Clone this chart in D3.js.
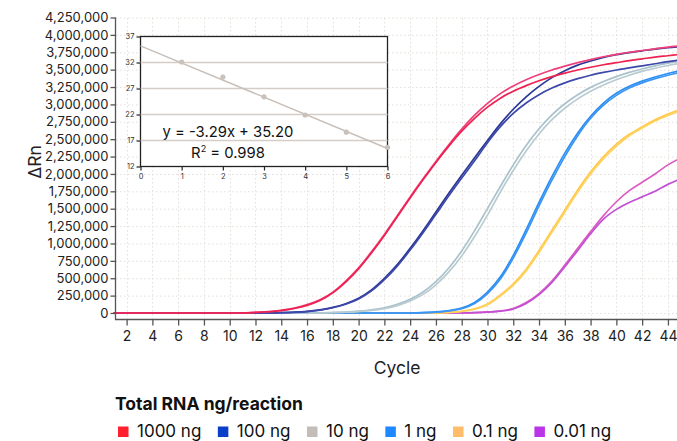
<!DOCTYPE html>
<html><head><meta charset="utf-8">
<script src="https://cdn.jsdelivr.net/npm/d3@7"></script>
<style>
body{margin:0;background:#fff}
svg{display:block;font-family:Inter,"Noto Sans",sans-serif}
</style></head>
<body><svg id="chart" width="677" height="441"></svg>
<script>
// ---------- data ----------
const cycles = [1,2,3,4,5,6,7,8,9,10,11,12,13,14,15,16,17,18,19,20,21,22,23,24,25,26,27,28,29,30,31,32,33,34,35,36,37,38,39,40,41,42,43,44,45];
const xTickValues = [2,4,6,8,10,12,14,16,18,20,22,24,26,28,30,32,34,36,38,40,42,44];
const yTickValues = [0,250000,500000,750000,1000000,1250000,1500000,1750000,2000000,2250000,2500000,2750000,3000000,3250000,3500000,3750000,4000000,4250000];

const rn1000a = [0,0,0,0,0,0,0,0,0,0,0,10000,20000,40000,70000,120000,190000,300000,460000,650000,880000,1130000,1400000,1670000,1930000,2180000,2420000,2645000,2845000,3015000,3155000,3265000,3355000,3430000,3495000,3550000,3600000,3645000,3685000,3720000,3750000,3775000,3800000,3825000,3845000];
const rn1000b = [0,0,0,0,0,0,0,0,0,0,0,8000,18000,35000,65000,110000,180000,290000,445000,635000,865000,1115000,1385000,1655000,1915000,2165000,2400000,2615000,2800000,2960000,3090000,3190000,3270000,3340000,3400000,3450000,3495000,3535000,3570000,3600000,3630000,3655000,3680000,3700000,3720000];
const rn100a = [0,0,0,0,0,0,0,0,0,0,0,0,0,5000,12000,24000,46000,80000,134000,212000,332000,498000,696000,930000,1184000,1454000,1722000,1980000,2234000,2480000,2720000,2930000,3110000,3260000,3385000,3485000,3565000,3625000,3675000,3715000,3745000,3770000,3795000,3815000,3830000];
const rn100b = [0,0,0,0,0,0,0,0,0,0,0,0,0,4000,10000,21000,42000,75000,126000,202000,318000,480000,675000,905000,1155000,1420000,1685000,1940000,2190000,2450000,2680000,2870000,3020000,3140000,3235000,3310000,3370000,3420000,3460000,3495000,3525000,3555000,3585000,3615000,3640000];
const rn10a = [0,0,0,0,0,0,0,0,0,0,0,0,0,0,0,0,0,7000,14000,26000,45000,76000,124000,196000,302000,452000,648000,892000,1184000,1502000,1820000,2130000,2410000,2650000,2850000,3010000,3140000,3245000,3330000,3400000,3460000,3510000,3555000,3595000,3625000];
const rn10b = [0,0,0,0,0,0,0,0,0,0,0,0,0,0,0,0,0,6000,11000,21000,37000,64000,106000,172000,268000,406000,591000,821000,1100000,1408000,1740000,2050000,2330000,2575000,2780000,2945000,3080000,3190000,3280000,3355000,3420000,3475000,3520000,3560000,3590000];
const rn1a = [0,0,0,0,0,0,0,0,0,0,0,0,0,0,0,0,0,0,0,0,0,0,0,0,5000,15000,35000,70000,150000,300000,520000,830000,1200000,1590000,1960000,2300000,2590000,2830000,3020000,3160000,3260000,3335000,3395000,3445000,3485000];
const rn1b = [0,0,0,0,0,0,0,0,0,0,0,0,0,0,0,0,0,0,0,0,0,0,0,0,4000,12000,30000,62000,135000,280000,490000,790000,1150000,1540000,1910000,2250000,2550000,2800000,2990000,3130000,3235000,3310000,3370000,3420000,3460000];
const rn01a = [0,0,0,0,0,0,0,0,0,0,0,0,0,0,0,0,0,0,0,0,0,0,0,0,0,0,10000,25000,60000,130000,260000,420000,630000,900000,1190000,1480000,1770000,2030000,2250000,2430000,2570000,2680000,2780000,2860000,2930000];
const rn01b = [0,0,0,0,0,0,0,0,0,0,0,0,0,0,0,0,0,0,0,0,0,0,0,0,0,0,8000,22000,55000,120000,245000,400000,605000,870000,1160000,1450000,1740000,2000000,2220000,2400000,2550000,2660000,2760000,2840000,2910000];
const rn001a = [0,0,0,0,0,0,0,0,0,0,0,0,0,0,0,0,0,0,0,0,0,0,0,0,0,0,0,0,5000,15000,30000,65000,150000,280000,460000,690000,930000,1170000,1400000,1600000,1760000,1880000,2000000,2130000,2230000];
const rn001b = [0,0,0,0,0,0,0,0,0,0,0,0,0,0,0,0,0,0,0,0,0,0,0,0,0,0,0,0,4000,12000,26000,58000,138000,265000,440000,665000,900000,1140000,1350000,1490000,1590000,1670000,1750000,1850000,1930000];

const seriesValues = [rn001a, rn001b, rn01a, rn01b, rn1a, rn1b, rn10a, rn10b, rn100a, rn100b, rn1000a, rn1000b];
const seriesColors = ["#dc5cc0","#c24fd4","#ffc94c","#ffd25e","#2b8ef3","#3a95f5","#a9c2cc","#b9cbd0","#2b3796","#3c48aa","#f0407c","#ee2250"];

const legendTitle = "Total RNA ng/reaction";
const legendLabels = ["1000 ng","100 ng","10 ng","1 ng","0.1 ng","0.01 ng"];
const legendColors = ["#ff1f2d","#0b3ec8","#c4bcb6","#1d88ff","#ffbd6b","#bb35e8"];

const insetX = [1,2,3,4,5,6];
const insetCt = [32.1,29.2,25.4,21.9,18.6,15.7];
const insetXTicks = [0,1,2,3,4,5,6];
const insetYTicks = [12,17,22,27,32,37];
const fitSlope = -3.29, fitIntercept = 35.20;
const fitText = "y = -3.29x + 35.20";

// ---------- drawing ----------
const svg = d3.select("#chart");
const x = d3.scaleLinear().domain([1.1, 46]).range([115, 693.7]);
const y = d3.scaleLinear().domain([0, 4250000]).range([313, 17.5]);
const axisY = 319.5;

// grid
const grid = svg.append("g").attr("stroke","#e4dfda").attr("stroke-width",1).attr("stroke-dasharray","1.5,2.5");
grid.selectAll("line.h").data(yTickValues).join("line").attr("class","h")
  .attr("x1",116).attr("x2",677).attr("y1",d=>y(d)+0.5).attr("y2",d=>y(d)+0.5);
grid.selectAll("line.v").data(xTickValues).join("line").attr("class","v")
  .attr("x1",d=>Math.round(x(d))+0.5).attr("x2",d=>Math.round(x(d))+0.5).attr("y1",18).attr("y2",axisY);

// curves
const line = d3.line().x((d,i)=>x(cycles[i])).y(d=>y(d)).curve(d3.curveMonotoneX);
svg.append("g").selectAll("path").data(seriesValues).join("path")
  .attr("d",d=>line(d)).attr("fill","none")
  .attr("stroke",(d,i)=>seriesColors[i]).attr("stroke-width",1.7);

// y axis
const gy = svg.append("g").attr("transform","translate(115.5,0)")
  .call(d3.axisLeft(y).tickValues(yTickValues).tickFormat(d3.format(",")).tickSize(5).tickPadding(2));
gy.select(".domain").attr("d",`M0,${y(4250000)}V${axisY}`);
gy.selectAll("text").attr("font-size",13).attr("fill","#222").attr("font-family","Inter");
gy.selectAll("line,path").attr("stroke","#555").attr("stroke-width",1.3);

// x axis
const gx = svg.append("g").attr("transform",`translate(0,${axisY})`)
  .call(d3.axisBottom(x).tickValues(xTickValues).tickSize(6).tickPadding(6));
gx.select(".domain").attr("d","M115,0H677");
gx.selectAll("text").attr("font-size",14).attr("fill","#222").attr("font-family","Inter");
gx.selectAll("line,path").attr("stroke","#555").attr("stroke-width",1.3);

svg.append("text").attr("x",397).attr("y",374).attr("text-anchor","middle")
  .attr("font-size",17.5).attr("fill","#222").text("Cycle");
svg.append("text").attr("transform","translate(41,162) rotate(-90)").attr("text-anchor","middle")
  .attr("font-size",17.5).attr("fill","#222").text("ΔRn");

// inset
const ix = d3.scaleLinear().domain([0,6]).range([140.5,387.5]);
const iy = d3.scaleLinear().domain([12,37]).range([166.5,36.5]);
const inset = svg.append("g");
inset.append("rect").attr("x",ix(0)).attr("y",iy(37)).attr("width",ix(6)-ix(0)).attr("height",iy(12)-iy(37))
  .attr("fill","#fff").attr("stroke","#222").attr("stroke-width",1.3);
inset.selectAll("line.g").data(insetYTicks.filter(d=>d>12&&d<37)).join("line").attr("class","g")
  .attr("x1",ix(0)).attr("x2",ix(6)).attr("y1",d=>iy(d)).attr("y2",d=>iy(d))
  .attr("stroke","#d6cdc6").attr("stroke-width",1.3);
const ixa = inset.append("g").attr("transform",`translate(0,${iy(12)})`)
  .call(d3.axisBottom(ix).tickValues(insetXTicks).tickFormat(d3.format("d")).tickSize(4).tickPadding(3));
const iya = inset.append("g").attr("transform",`translate(${ix(0)},0)`)
  .call(d3.axisLeft(iy).tickValues(insetYTicks).tickFormat(d3.format("d")).tickSize(4).tickPadding(2));
[ixa,iya].forEach(g=>{
  g.select(".domain").remove();
  g.selectAll("line").attr("stroke","#222").attr("stroke-width",1.2);
  g.selectAll("text").attr("font-size",7.5).attr("fill","#333").attr("font-family","Inter");
});
inset.append("line").attr("x1",ix(0)).attr("y1",iy(fitIntercept)).attr("x2",ix(6)).attr("y2",iy(fitIntercept+fitSlope*6))
  .attr("stroke","#c8bfb8").attr("stroke-width",1.5);
inset.selectAll("circle").data(insetX).join("circle")
  .attr("cx",d=>ix(d)).attr("cy",(d,i)=>iy(insetCt[i])).attr("r",2.6).attr("fill","#c9c1bb");
inset.append("text").attr("x",228).attr("y",136.5).attr("text-anchor","middle")
  .attr("font-size",14.8).attr("fill","#111").text(fitText);
const r2 = inset.append("text").attr("x",228).attr("y",158).attr("text-anchor","middle")
  .attr("font-size",14.8).attr("fill","#111");
r2.append("tspan").text("R");
r2.append("tspan").attr("font-size",9).attr("dy",-6).text("2");
r2.append("tspan").attr("dy",6).text(" = 0.998");

// legend
svg.append("text").attr("x",115).attr("y",410).attr("font-size",17.5).attr("font-weight",700)
  .attr("fill","#111").text(legendTitle);
let lx = 118;
legendLabels.forEach((lab,i)=>{
  svg.append("rect").attr("x",lx).attr("y",426.5).attr("width",10.5).attr("height",10.5).attr("fill",legendColors[i]);
  const t = svg.append("text").attr("x",lx+19).attr("y",437).attr("font-size",17).attr("fill","#111").text(lab);
  lx = lx + 19 + t.node().getComputedTextLength() + 16.5;
});
</script></body></html>
